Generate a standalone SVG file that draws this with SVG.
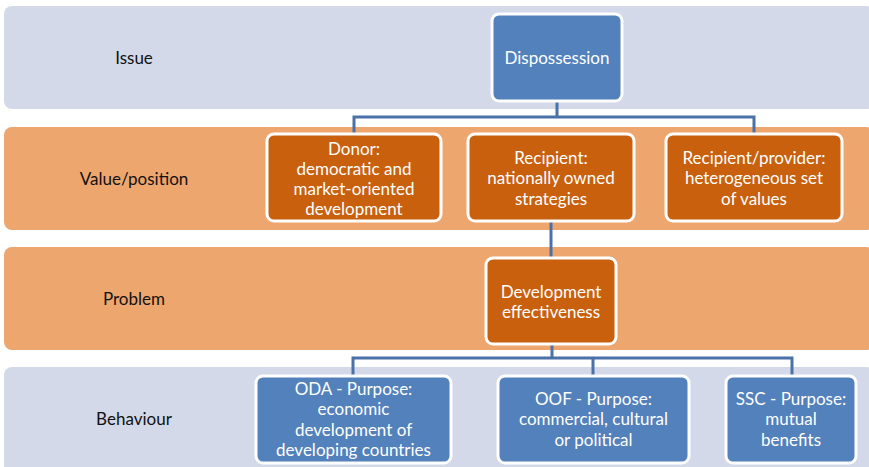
<svg xmlns="http://www.w3.org/2000/svg" width="869" height="467" viewBox="0 0 869 467">
<style>
.band-blue{fill:#D3D9E8}
.band-orange{fill:#EEA66F}
.lbl{font-family:Lato,"Liberation Sans",sans-serif;font-size:17px;fill:#111;text-anchor:middle;dominant-baseline:central}
.node-blue{fill:#5281BB;stroke:#fff;stroke-width:3}
.node-orange{fill:#C8600D;stroke:#fff;stroke-width:3}
.nt{font-family:Lato,"Liberation Sans",sans-serif;font-size:17px;fill:#fff;text-anchor:middle;dominant-baseline:central}
.conn{fill:none;stroke:#4A72A8;stroke-width:3}
</style>
<g id="bands">
<rect class="band-blue" x="4" y="6" width="870" height="103" rx="8"/>
<rect class="band-orange" x="4" y="127" width="870" height="103" rx="8"/>
<rect class="band-orange" x="4" y="247" width="870" height="103" rx="8"/>
<rect class="band-blue" x="4" y="367" width="870" height="110" rx="8"/>
<text class="lbl" x="134" y="57">Issue</text>
<text class="lbl" x="134" y="178">Value/position</text>
<text class="lbl" x="134" y="298">Problem</text>
<text class="lbl" x="134" y="418">Behaviour</text>
</g>
<g id="connectors">
<path class="conn" d="M557 101V117M354 134V117H754V134"/>
<path class="conn" d="M551 222V258"/>
<path class="conn" d="M552 344V358M353 376V358H792V376M593 358V376"/>
</g>
<g id="dispossession">
<rect class="node-blue" x="492" y="14" width="130" height="87" rx="7"/>
<text class="nt" x="557" y="57">Dispossession</text>
</g>
<g id="donor">
<rect class="node-orange" x="267" y="134" width="174" height="87" rx="7"/>
<text class="nt" x="354" y="148">Donor:</text>
<text class="nt" x="354" y="168">democratic and</text>
<text class="nt" x="354" y="188">market-oriented</text>
<text class="nt" x="354" y="208">development</text>
</g>
<g id="recipient">
<rect class="node-orange" x="468" y="134" width="166" height="87" rx="7"/>
<text class="nt" x="551" y="157">Recipient:</text>
<text class="nt" x="551" y="177.5">nationally owned</text>
<text class="nt" x="551" y="198">strategies</text>
</g>
<g id="recipient-provider">
<rect class="node-orange" x="666" y="134" width="176" height="87" rx="7"/>
<text class="nt" x="754" y="157">Recipient/provider:</text>
<text class="nt" x="754" y="177.5">heterogeneous set</text>
<text class="nt" x="754" y="198">of values</text>
</g>
<g id="development-effectiveness">
<rect class="node-orange" x="486" y="258" width="130" height="86" rx="7"/>
<text class="nt" x="551" y="291.5">Development</text>
<text class="nt" x="551" y="311.5">effectiveness</text>
</g>
<g id="oda">
<rect class="node-blue" x="256" y="376" width="195" height="87" rx="7"/>
<text class="nt" x="353.5" y="388">ODA - Purpose:</text>
<text class="nt" x="353.5" y="408.5">economic</text>
<text class="nt" x="353.5" y="429">development of</text>
<text class="nt" x="353.5" y="449.5">developing countries</text>
</g>
<g id="oof">
<rect class="node-blue" x="498" y="376" width="191" height="87" rx="7"/>
<text class="nt" x="593.5" y="398">OOF - Purpose:</text>
<text class="nt" x="593.5" y="418.5">commercial, cultural</text>
<text class="nt" x="593.5" y="439">or political</text>
</g>
<g id="ssc">
<rect class="node-blue" x="726" y="376" width="130" height="87" rx="7"/>
<text class="nt" x="791" y="398">SSC - Purpose:</text>
<text class="nt" x="791" y="418.5">mutual</text>
<text class="nt" x="791" y="439">benefits</text>
</g>
</svg>
